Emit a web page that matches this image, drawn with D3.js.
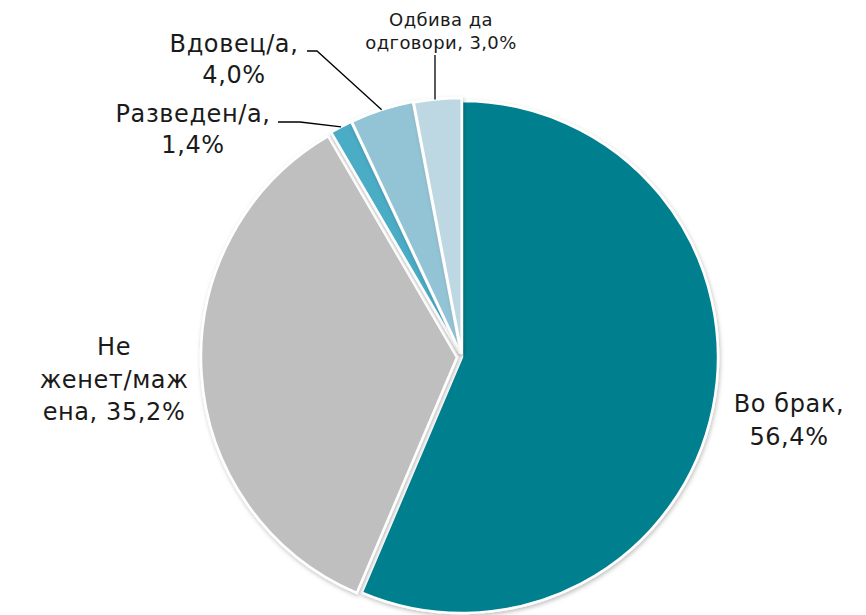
<!DOCTYPE html>
<html>
<head>
<meta charset="utf-8">
<script src="https://cdn.jsdelivr.net/npm/d3@7"></script>
<style>
  body { margin: 0; background: #fff; }
  text { font-family: "DejaVu Sans", sans-serif; fill: #1a1a1a; }
</style>
</head>
<body>
<div id="chart-area"></div>
<script>
// marital status shares (%)
let categories = ["Во брак", "Не женет/мажена", "Разведен/а", "Вдовец/а", "Одбива да одговори"];
let values = [56.4, 35.2, 1.4, 4.0, 3.0];
let valueLabels = ["56,4%", "35,2%", "1,4%", "4,0%", "3,0%"];
let colors = ["#00808f", "#bfbfbf", "#4bacc6", "#93c4d6", "#bdd8e3"];
let explode = [0, 5, 4, 4, 3];

let width = 866, height = 615;
let cx = 462, cy = 357, radius = 256;

let svgCanvas = d3.select("#chart-area")
                    .append("svg")
                    .attr("width", width)
                    .attr("height", height)

let defs = svgCanvas.append("defs");
let shadow = defs.append("filter").attr("id", "shadow")
                 .attr("x", "-10%").attr("y", "-10%")
                 .attr("width", "120%").attr("height", "120%");
shadow.append("feDropShadow")
      .attr("dx", 1).attr("dy", 2)
      .attr("stdDeviation", 2)
      .attr("flood-color", "#000")
      .attr("flood-opacity", 0.25);

let pie = d3.pie().sort(null).value(d => d);
let arcs = pie(values);
let arc = d3.arc().innerRadius(0).outerRadius(radius);

let g = svgCanvas.append("g")
                 .attr("transform", `translate(${cx},${cy})`);

g.selectAll("path")
 .data(arcs)
 .enter().append("path")
 .attr("d", arc)
 .attr("transform", function(d, i){
     let mid = (d.startAngle + d.endAngle) / 2;
     return `translate(${Math.sin(mid) * explode[i]},${-Math.cos(mid) * explode[i]})`;
 })
 .attr("fill", (d, i) => colors[i])
 .attr("stroke", "#fff")
 .attr("stroke-width", 2.5)
 .attr("filter", "url(#shadow)")

// label layout: lines of text, anchor x, first baseline, line height, font size
let labels = [
    {lines: ["Во брак,", valueLabels[0]], x: 789, y: 412, lh: 33, size: 24},
    {lines: ["Не", "женет/маж", "ена, " + valueLabels[1]], x: 114, y: 355, lh: 32.5, size: 24},
    {lines: ["Разведен/а,", valueLabels[2]], x: 193, y: 122, lh: 31, size: 24},
    {lines: ["Вдовец/а,", valueLabels[3]], x: 234, y: 52, lh: 31, size: 24},
    {lines: ["Одбива да", "одговори, " + valueLabels[4]], x: 441, y: 26, lh: 23, size: 18}
];

labels.forEach(function(lab){
    let t = svgCanvas.append("text")
                     .attr("text-anchor", "middle")
                     .attr("font-size", lab.size)
                     .attr("letter-spacing", lab.size > 20 ? 0.6 : 0.4);
    lab.lines.forEach(function(line, j){
        t.append("tspan")
         .attr("x", lab.x)
         .attr("y", lab.y + j * lab.lh)
         .text(line);
    });
});

// leader lines: start near label, end on the slice edge
let leaders = [
    {i: 2, pts: [[278, 122], [300, 122]]},
    {i: 3, pts: [[307, 51], [317, 51]]},
    {i: 4, pts: [[435, 55]]}
];

leaders.forEach(function(ld){
    let d = arcs[ld.i];
    let mid = (d.startAngle + d.endAngle) / 2;
    let r = radius + explode[ld.i];
    let end = [cx + Math.sin(mid) * r, cy - Math.cos(mid) * r];
    let pts = ld.pts.slice();
    if (ld.pts.length === 1) end = [ld.pts[0][0], cy - Math.sqrt(r * r - (ld.pts[0][0] - cx) ** 2)];
    pts.push(end);
    svgCanvas.append("path")
             .attr("d", d3.line()(pts))
             .attr("fill", "none")
             .attr("stroke", "#000")
             .attr("stroke-width", 1.3);
});
</script>
</body>
</html>
